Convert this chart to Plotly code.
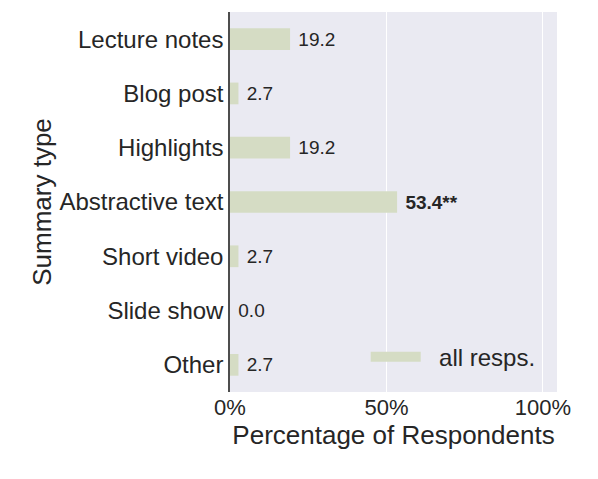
import plotly.graph_objects as go

# categories top to bottom
summary_types = ["Lecture notes", "Blog post", "Highlights", "Abstractive text",
                 "Short video", "Slide show", "Other"]
all_resps = [19.2, 2.7, 19.2, 53.4, 2.7, 0.0, 2.7]
bar_labels = ["19.2", "2.7", "19.2", "<b>53.4**</b>", "2.7", "0.0", "2.7"]
x_ticks = [0, 50, 100]
x_tick_labels = ["0%", "50%", "100%"]

bar_color = "#d5dcc4"
text_color = "#262626"

fig = go.Figure()
fig.add_trace(go.Bar(
    x=all_resps,
    y=summary_types,
    orientation="h",
    width=0.4,
    marker=dict(color=bar_color, line=dict(width=0)),
    text=["\u00a0" + t for t in bar_labels],
    textposition="outside",
    constraintext="none",
    textfont=dict(size=19, color=text_color),
    cliponaxis=False,
    showlegend=False,
))
# legend entry (wide patch like the original)
fig.add_trace(go.Scatter(
    x=[None], y=[None],
    mode="lines",
    line=dict(color=bar_color, width=17),
    name="\u00a0\u00a0all resps.",
))

# page body has an 8px margin, so margins are shifted to compensate
fig.update_layout(
    width=598, height=479,
    margin=dict(l=222, r=49, t=4, b=95),
    paper_bgcolor="white",
    plot_bgcolor="#eaeaf2",
    font=dict(family="Liberation Sans, Arial, sans-serif", color=text_color, size=22),
    legend=dict(
        x=0.415, y=0.092, xanchor="left", yanchor="middle",
        bgcolor="rgba(0,0,0,0)",
        font=dict(size=24, color=text_color),
        itemwidth=50,
    ),
)
fig.update_xaxes(
    range=[0, 104.5],
    tickvals=x_ticks,
    ticktext=x_tick_labels,
    showgrid=True, gridcolor="white", gridwidth=1,
    zeroline=False,
    tickfont=dict(size=22),
    title=dict(text="Percentage of Respondents", font=dict(size=26), standoff=2),
    ticks="",
)
fig.update_yaxes(
    categoryorder="array",
    categoryarray=summary_types,
    autorange="reversed",
    showgrid=False,
    showline=True, linecolor="#4d4d4d", linewidth=1.5,
    tickfont=dict(size=24),
    ticks="",
    ticklabelstandoff=0,
    title=dict(text="Summary type", font=dict(size=26), standoff=0),
)

fig.write_html("out.html")
